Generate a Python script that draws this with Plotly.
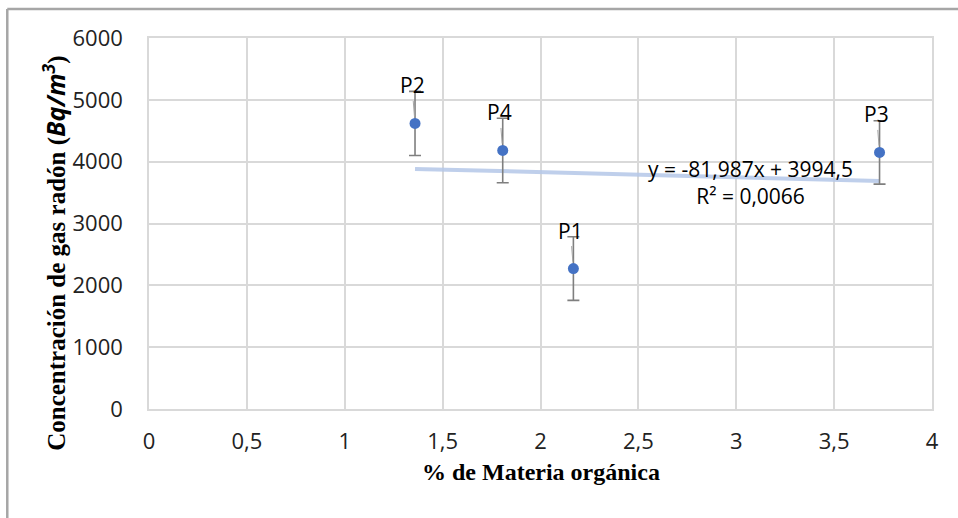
import numpy as np
import plotly.graph_objects as go

# Sampling points: % organic matter vs radon gas concentration
labels = ["P1", "P2", "P3", "P4"]
materia_organica = [2.168, 1.359, 3.732, 1.807]
radon = [2271, 4618, 4149, 4181]
radon_err = [515, 518, 512, 521]

# Linear trendline reported on the chart
slope = -81.987
intercept = 3994.5
r2 = 0.0066

x_ticks = [0, 0.5, 1, 1.5, 2, 2.5, 3, 3.5, 4]
x_tick_text = ["0", "0,5", "1", "1,5", "2", "2,5", "3", "3,5", "4"]
y_ticks = [0, 1000, 2000, 3000, 4000, 5000, 6000]

SANS = "Open Sans, Lato, sans-serif"
SERIF = "Liberation Serif, Times New Roman, serif"
tick_font = dict(family=SANS, size=22, color="#222222")
label_font = dict(family=SANS, size=21, color="#000000")

fig = go.Figure()

# trendline over the span of the data
tx = np.array([min(materia_organica), max(materia_organica)])
ty = slope * tx + intercept
fig.add_trace(go.Scatter(
    x=tx, y=ty, mode="lines",
    line=dict(color="rgba(180,199,231,0.85)", width=4),
    hoverinfo="skip", showlegend=False,
))

fig.add_trace(go.Scatter(
    x=materia_organica, y=radon, mode="markers",
    marker=dict(color="#4472c4", size=11),
    error_y=dict(type="data", array=radon_err, visible=True,
                 color="#7f7f7f", thickness=1.6, width=6),
    showlegend=False,
))

# point labels with short leader lines
for lab, xv, yv in zip(labels, materia_organica, radon):
    fig.add_annotation(
        x=xv, y=yv, text=lab, showarrow=True, arrowhead=0,
        arrowwidth=1, arrowcolor="#a6a6a6", ax=-3, ay=-38, standoff=7,
        font=label_font,
    )

fig.add_annotation(
    x=3.075, y=3660, xref="x", yref="y",
    text=f"y = {slope:.3f}x + {intercept:.1f}".replace(".", ",") + "<br>R² = " + f"{r2:.4f}".replace(".", ","),
    showarrow=False, align="center", font=label_font,
)

# axis titles
fig.add_annotation(
    x=0.5, y=-0.170, xref="paper", yref="paper", xanchor="center", yanchor="middle",
    text="<b>% de Materia orgánica</b>", showarrow=False,
    font=dict(family=SERIF, size=24, color="#000000"),
)
fig.add_annotation(
    x=-0.121, y=0.419, xref="paper", yref="paper", xanchor="center", yanchor="middle",
    textangle=-90, showarrow=False,
    font=dict(family=SERIF, size=25, color="#000000"),
    text="<b>Concentración de gas radón (<span style=\"font-family:'Open Sans'\">"
         "<i>Bq/m<sup>3</sup></i></span>)</b>",
)

# outer chart-area border (top and left edges)
border = dict(color="#a6a6a6", width=2.5)
fig.add_shape(type="line", xref="paper", yref="paper",
              x0=-0.181, x1=1.04, y0=1.078, y1=1.078, line=border)
fig.add_shape(type="line", xref="paper", yref="paper",
              x0=-0.181, x1=-0.181, y0=1.078, y1=-0.30, line=border)

fig.update_xaxes(
    range=[0, 4], tickvals=x_ticks, ticktext=x_tick_text,
    showgrid=True, gridcolor="#d9d9d9", gridwidth=1.5,
    zeroline=False, showline=True, linecolor="#d9d9d9", linewidth=1.5, mirror=True,
    ticks="", tickfont=tick_font, ticklabelstandoff=12,
)
fig.update_yaxes(
    range=[0, 6000], tickvals=y_ticks,
    showgrid=True, gridcolor="#d9d9d9", gridwidth=1.5,
    zeroline=False, showline=True, linecolor="#d9d9d9", linewidth=1.5, mirror=True,
    ticks="", tickfont=tick_font, ticklabelstandoff=20,
)

fig.update_layout(
    width=958, height=518,
    margin=dict(l=149, r=26, t=38, b=109),
    paper_bgcolor="white", plot_bgcolor="white",
)

fig.write_html("out.html")
